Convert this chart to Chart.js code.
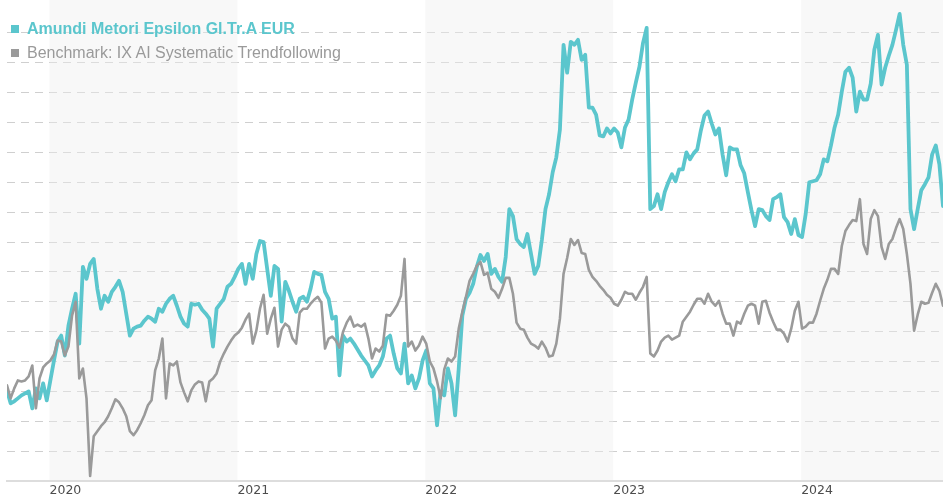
<!DOCTYPE html>
<html>
<head>
<meta charset="utf-8">
<script src="https://cdn.jsdelivr.net/npm/chart.js@4.4.1/dist/chart.umd.min.js"></script>
<style>
html,body{margin:0;padding:0;background:#fff;}
#wrap{position:relative;width:943px;height:500px;overflow:hidden;}
#c{position:absolute;left:0;top:0;}
.lg{position:absolute;left:27px;font-family:"Liberation Sans",Arial,sans-serif;font-size:16px;line-height:18px;white-space:nowrap;}
.sq{position:absolute;left:11px;width:8px;height:8px;}
</style>
</head>
<body>
<div id="wrap">
<canvas id="c" width="943" height="500"></canvas>
<div class="sq" id="sq1" style="top:25px;"></div>
<div class="lg" id="lg1" style="top:20px;font-weight:bold;"></div>
<div class="sq" id="sq2" style="top:49px;"></div>
<div class="lg" id="lg2" style="top:44px;"></div>
</div>
<script>
// ---- data ----
const fundName = 'Amundi Metori Epsilon Gl.Tr.A EUR';
const benchName = 'Benchmark: IX AI Systematic Trendfollowing';
const startYear = 2019.774;       // first weekly observation (decimal year)
const weekStep = 1 / 52;          // weekly observations
const yearTicks = [2020, 2021, 2022, 2023, 2024];
const shadedYears = [2020, 2022, 2024];

const fundValues = [
100.1,98.8,99.0,99.3,99.6,99.8,100.0,98.3,100.3,99.3,
100.8,99.1,101.1,103.1,105.0,105.6,103.6,106.6,108.3,109.8,
104.8,112.5,111.3,112.8,113.3,110.3,108.3,109.6,109.0,110.0,
110.5,111.1,110.0,107.8,105.6,106.3,106.5,106.6,107.1,107.5,
107.3,107.0,108.3,108.0,108.8,109.3,109.6,108.6,107.5,106.8,
106.5,108.8,108.7,108.8,108.2,107.8,107.3,104.5,108.3,108.8,
109.3,110.5,110.8,111.5,112.3,112.8,110.8,112.8,111.3,113.8,
115.1,115.0,112.3,109.6,112.6,112.3,107.0,111.0,110.1,109.0,
108.0,109.3,109.5,109.0,110.3,112.0,111.8,111.7,110.0,109.3,
107.3,107.5,101.6,105.6,105.0,105.3,104.8,104.2,103.6,103.1,
102.6,101.5,102.1,102.6,103.5,105.3,105.6,103.8,102.3,101.8,
104.8,100.8,101.6,100.3,101.3,103.1,104.1,100.8,100.3,96.6,
100.0,99.6,102.3,100.8,97.6,102.3,107.6,109.3,109.9,110.8,
112.5,113.7,113.1,113.8,111.8,112.3,111.5,111.0,113.5,118.3,
117.6,115.3,114.8,114.5,115.8,113.8,111.8,112.6,115.2,118.3,
119.8,122.0,123.5,126.3,134.8,132.0,135.1,134.8,135.3,133.3,
133.8,128.5,128.5,127.8,125.7,125.6,126.4,125.9,126.4,126.0,
124.5,126.5,127.3,129.3,131.0,132.6,135.0,136.5,118.3,118.6,
119.8,118.3,120.0,121.0,121.8,121.1,122.3,122.3,124.0,123.3,
123.9,124.3,126.2,127.7,128.1,126.9,125.8,126.4,123.8,121.7,
124.5,124.3,124.3,122.7,121.9,120.0,118.2,116.6,118.3,118.2,
117.6,117.2,119.3,119.5,119.8,117.5,117.0,115.8,117.3,115.7,
115.5,117.8,121.0,121.1,121.2,121.8,123.3,123.1,124.7,126.5,
127.8,130.1,132.1,132.5,131.5,128.1,130.1,129.3,129.3,130.9,
134.3,135.8,130.8,132.5,133.7,134.8,136.3,137.9,134.8,132.8,
118.3,116.3,118.3,120.2,120.8,121.5,123.8,124.7,122.8,118.6
];

const benchValues = [
100.6,99.3,100.3,101.1,101.0,101.1,101.5,102.6,98.3,101.3,
102.4,102.8,103.1,103.7,105.1,105.0,103.6,104.5,107.6,109.0,
101.3,102.3,99.3,91.5,95.5,96.0,96.5,96.9,97.5,98.3,
99.2,98.9,98.3,97.5,96.0,95.6,96.1,96.8,97.6,98.6,
99.1,102.1,103.3,105.3,99.3,102.8,102.6,103.0,100.9,99.9,
99.0,100.1,100.7,101.0,100.9,99.0,101.0,101.3,101.8,103.0,
103.8,104.5,105.1,105.6,105.9,106.4,107.2,107.8,104.8,106.1,
108.3,109.7,105.8,107.3,108.4,104.5,106.2,106.8,106.5,105.3,
104.8,107.9,108.3,108.3,108.8,109.2,109.5,108.9,104.3,105.3,
105.5,105.1,104.4,106.0,106.9,107.5,106.5,106.7,106.5,106.8,
105.3,103.3,104.3,104.0,104.6,107.7,107.6,108.1,108.7,109.6,
113.3,104.5,105.0,104.1,104.6,105.5,104.8,103.0,102.3,101.0,
99.3,102.2,103.3,103.0,103.5,106.3,108.0,109.5,111.1,111.8,
112.6,113.0,111.7,111.9,110.3,110.0,109.4,110.3,111.4,111.4,
109.8,106.9,106.3,106.2,105.4,104.8,104.6,104.3,105.0,104.4,
103.5,103.6,104.8,107.3,111.8,113.4,115.3,114.7,115.2,113.9,
113.8,112.2,111.5,111.1,110.6,110.2,109.7,109.4,108.8,108.6,
109.2,110.0,109.8,109.8,109.2,109.9,110.5,111.5,103.8,103.5,
104.1,105.0,105.4,105.6,105.2,105.4,105.6,107.0,107.5,108.0,
108.7,109.3,109.3,108.8,109.8,109.0,108.6,109.1,107.8,106.8,
106.8,105.6,107.0,106.8,107.8,108.6,108.8,108.6,106.8,109.0,
109.1,107.9,107.0,106.2,106.2,105.8,105.0,106.3,108.1,109.0,
106.3,106.5,106.9,106.9,107.8,109.1,110.3,111.2,112.3,112.3,
111.8,114.6,116.1,116.7,117.2,117.1,119.3,114.8,113.8,117.3,
118.2,117.6,114.5,113.3,114.8,115.3,116.4,117.3,116.3,113.8,
110.8,106.1,107.7,109.0,108.8,108.9,109.9,110.8,110.1,108.6
];

const fundColor = '#5bc6cd';
const benchColor = '#9a9a9a';

// ---- legend (HTML text) ----
document.getElementById('lg1').textContent = fundName;
document.getElementById('lg1').style.color = fundColor;
document.getElementById('sq1').style.background = fundColor;
document.getElementById('lg2').textContent = benchName;
document.getElementById('lg2').style.color = benchColor;
document.getElementById('sq2').style.background = benchColor;

const times = fundValues.map((_, i) => startYear + i * weekStep);
const fundData = fundValues.map((v, i) => ({x: times[i], y: v}));
const benchData = benchValues.map((v, i) => ({x: times[i], y: v}));

const yMin = 91, yMax = 139, yStep = 3;

const bandsPlugin = {
  id: 'bands',
  beforeDatasetsDraw(chart) {
    const {ctx, chartArea, scales: {x}} = chart;
    ctx.save();
    ctx.fillStyle = 'rgba(238,238,238,0.42)';
    shadedYears.forEach(yr => {
      const x0 = Math.max(x.getPixelForValue(yr), chartArea.left);
      const x1 = Math.min(x.getPixelForValue(yr + 1), chartArea.right);
      if (x1 > x0) ctx.fillRect(x0, 0, x1 - x0, chartArea.bottom - 1);
    });
    ctx.restore();
  }
};

new Chart(document.getElementById('c'), {
  type: 'line',
  data: {
    datasets: [
      {label: fundName, data: fundData, borderColor: fundColor, borderWidth: 3.8, order: 2},
      {label: benchName, data: benchData, borderColor: benchColor, borderWidth: 2.6, order: 1}
    ]
  },
  options: {
    responsive: false,
    animation: false,
    devicePixelRatio: 1,
    layout: {padding: {left: 7, right: 0, top: 3, bottom: 0}},
    plugins: {legend: {display: false}, tooltip: {enabled: false}},
    elements: {
      point: {radius: 0},
      line: {tension: 0, borderJoinStyle: 'round', borderCapStyle: 'round', fill: false}
    },
    scales: {
      x: {
        type: 'linear',
        min: startYear,
        max: times[times.length - 1],
        afterBuildTicks: ax => { ax.ticks = yearTicks.map(v => ({value: v})); },
        grid: {display: false, drawTicks: false},
        border: {display: true, color: '#dddddd', width: 2},
        ticks: {
          align: 'start', padding: 2, color: '#4d4d4d',
          font: {family: 'DejaVu Sans', size: 12.5},
          autoSkip: false, maxRotation: 0,
          callback: v => String(v)
        }
      },
      y: {
        min: yMin, max: yMax,
        ticks: {display: false, stepSize: yStep},
        grid: {
          drawTicks: false, lineWidth: 1,
          color: c => (c.tick && (c.tick.value === yMin || c.tick.value === yMax)) ? 'rgba(0,0,0,0)' : '#cfcfcf'
        },
        border: {display: false, dash: [8, 6]}
      }
    }
  },
  plugins: [bandsPlugin]
});
</script>
</body>
</html>
